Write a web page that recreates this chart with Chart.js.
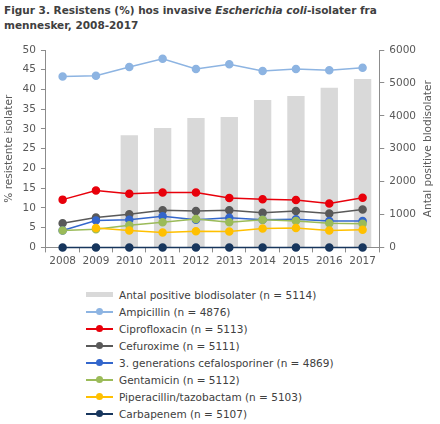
<!DOCTYPE html>
<html>
<head>
<meta charset="utf-8">
<script src="https://cdn.jsdelivr.net/npm/chart.js@4/dist/chart.umd.min.js"></script>
<style>
  body { margin: 0; width: 440px; height: 424px; background: #fff; font-family: "DejaVu Sans", Verdana, sans-serif; position: relative; overflow: hidden; }
  #title { position: absolute; left: 4px; top: 3px; font-size: 10.5px; font-weight: bold; color: #404040; line-height: 15px; }
  #wrap { position: absolute; left: 0; top: 36px; width: 440px; height: 235px; }
  #legend { position: absolute; left: 86px; top: 286px; }
  .row { height: 17px; display: flex; align-items: center; font-size: 10.5px; color: #404040; white-space: nowrap; }
  .sym { width: 27px; height: 17px; position: relative; margin-right: 6px; }
  .sym .ln { position: absolute; left: 0; right: 0; top: 8px; height: 1.5px; }
  .sym .dot { position: absolute; left: 10px; top: 5px; width: 7px; height: 7px; border-radius: 50%; }
  .sym .bx { position: absolute; left: 0; right: 0; top: 6px; height: 5px; }
</style>
</head>
<body>
<div id="title">Figur 3. Resistens (%) hos invasive <i>Escherichia coli</i>-isolater fra<br>mennesker, 2008-2017</div>
<div id="wrap"><canvas id="c"></canvas></div>
<div id="legend"></div>
<script>
const years = ['2008', '2009', '2010', '2011', '2012', '2013', '2014', '2015', '2016', '2017'];

const blodisolater = [null, null, 3410, 3630, 3930, 3960, 4480, 4600, 4850, 5120];

const ampicillin = [43.3, 43.5, 45.7, 47.8, 45.2, 46.4, 44.7, 45.2, 44.9, 45.5];
const ciprofloxacin = [12.1, 14.4, 13.6, 13.9, 13.9, 12.5, 12.2, 12.0, 11.1, 12.6];
const cefuroxime = [6.1, 7.6, 8.4, 9.4, 9.2, 9.4, 8.8, 9.2, 8.6, 9.6];
const cefalosporiner = [4.3, 6.8, 7.0, 7.9, 7.0, 7.5, 7.0, 7.1, 6.7, 6.7];
const gentamicin = [4.3, 4.6, 5.6, 6.4, 7.2, 6.4, 7.0, 6.7, 6.1, 6.0];
const piptazo = [null, 4.9, 4.3, 3.8, 4.1, 4.0, 4.8, 4.9, 4.3, 4.5];
const carbapenem = [0, 0, 0, 0, 0, 0, 0, 0, 0, 0];

const leftTicks = [0, 5, 10, 15, 20, 25, 30, 35, 40, 45, 50];
const rightTicks = [0, 1000, 2000, 3000, 4000, 5000, 6000];
const rightTitle = 'Antal positive blodisolater';

const font = { family: '"DejaVu Sans", Verdana, sans-serif', size: 10.5 };
const txt = '#595959';
const axisGray = '#8c8c8c';

function line(label, data, color) {
    return {
        type: 'line',
        label: label,
        data: data,
        yAxisID: 'y',
        borderColor: color,
        backgroundColor: color,
        pointBackgroundColor: color,
        pointBorderColor: color,
        pointRadius: 3.5,
        pointHoverRadius: 3.5,
        borderWidth: 1.5,
        tension: 0,
        clip: false
    };
}

const datasets = [
    {
        type: 'bar',
        label: 'Antal positive blodisolater (n = 5114)',
        data: blodisolater,
        yAxisID: 'y2',
        backgroundColor: '#d9d9d9',
        barPercentage: 0.52,
        categoryPercentage: 1,
        order: 1
    },
    line('Ampicillin (n = 4876)', ampicillin, '#8db4e2'),
    line('Ciprofloxacin (n = 5113)', ciprofloxacin, '#e8000b'),
    line('Cefuroxime (n = 5111)', cefuroxime, '#595959'),
    line('3. generations cefalosporiner (n = 4869)', cefalosporiner, '#3366cc'),
    line('Gentamicin (n = 5112)', gentamicin, '#9bbb59'),
    line('Piperacillin/tazobactam (n = 5103)', piptazo, '#ffc000'),
    line('Carbapenem (n = 5107)', carbapenem, '#17365d')
];

// later series on top, as in the source
datasets.forEach((d, i) => { if (d.type === 'line') d.order = -i; });

// right axis title reads bottom-to-top like the left one
const rightTitlePlugin = {
    id: 'rightTitle',
    afterDraw(chart) {
        const s = chart.scales.y2;
        const ctx = chart.ctx;
        ctx.save();
        ctx.translate(428, (s.top + s.bottom) / 2);
        ctx.rotate(-Math.PI / 2);
        ctx.font = font.size + 'px ' + font.family;
        ctx.fillStyle = txt;
        ctx.textAlign = 'center';
        ctx.textBaseline = 'middle';
        ctx.fillText(rightTitle, 0, 0);
        ctx.restore();
    }
};

const chart = new Chart(document.getElementById('c'), {
    type: 'bar',
    data: { labels: years, datasets: datasets },
    options: {
        responsive: true,
        maintainAspectRatio: false,
        animation: false,
        layout: { padding: { left: 2, right: 19, top: 14, bottom: 0 } },
        plugins: { legend: { display: false }, tooltip: { enabled: false } },
        scales: {
            x: {
                offset: true,
                grid: { display: true, drawOnChartArea: false, offset: true, color: axisGray, tickLength: 5 },
                border: { color: axisGray },
                ticks: { color: txt, font: font, padding: 3, maxRotation: 0 }
            },
            y: {
                position: 'left',
                min: 0, max: 50,
                afterBuildTicks: s => { s.ticks = leftTicks.map(v => ({ value: v })); },
                grid: { drawOnChartArea: false, color: axisGray, tickLength: 5 },
                border: { color: axisGray },
                ticks: { color: txt, font: font, padding: 5 },
                title: { display: true, text: '% resistente isolater', color: txt, font: font, padding: { top: 1, bottom: 2 } }
            },
            y2: {
                position: 'right',
                min: 0, max: 6000,
                afterBuildTicks: s => { s.ticks = rightTicks.map(v => ({ value: v })); },
                grid: { drawOnChartArea: false, color: axisGray, tickLength: 5 },
                border: { color: axisGray },
                ticks: { color: txt, font: font, padding: 5, callback: v => String(v) }
            }
        }
    },
    plugins: [rightTitlePlugin]
});

// legend built from the chart's own datasets
const leg = document.getElementById('legend');
chart.data.datasets.forEach(d => {
    const row = document.createElement('div');
    row.className = 'row';
    const sym = document.createElement('div');
    sym.className = 'sym';
    if (d.type === 'bar') {
        sym.innerHTML = '<div class="bx" style="background:' + d.backgroundColor + '"></div>';
    } else {
        sym.innerHTML = '<div class="ln" style="background:' + d.borderColor + '"></div>' +
                        '<div class="dot" style="background:' + d.pointBackgroundColor + '"></div>';
    }
    const lab = document.createElement('span');
    lab.textContent = d.label;
    row.appendChild(sym);
    row.appendChild(lab);
    leg.appendChild(row);
});
</script>
</body>
</html>
